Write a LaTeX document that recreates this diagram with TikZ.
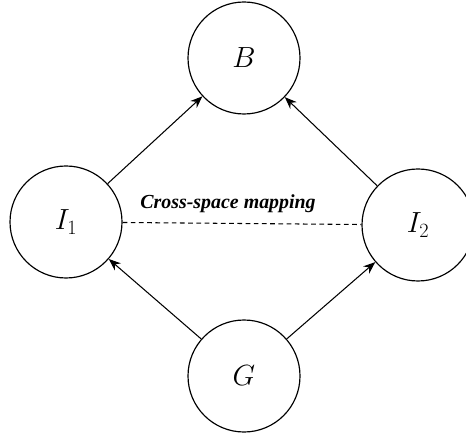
\documentclass[tikz,border=0pt]{standalone}
\usepackage{fontspec}
\setmainfont{Liberation Serif}
\usetikzlibrary{arrows.meta}

\begin{document}
\begin{tikzpicture}[
    space/.style={circle, draw, line width=1pt, minimum size=3.36cm, inner sep=0pt, font=\fontsize{27}{32}\selectfont},
    map/.style={-{Stealth[length=3.6mm, width=2.8mm]}, line width=0.9pt},
    cross/.style={line width=0.9pt, dash pattern=on 4pt off 3pt},
    lbl/.style={font=\fontsize{17}{20}\selectfont\bfseries\itshape}
]
    \useasboundingbox (0,0) rectangle (13.98,12.99);

    % Spaces
    \node[space] (B) at (7.32,11.25) {$B$};
    \node[space] (G) at (7.32,1.71) {$G$};
    \node[space] (I1) at (1.98,6.33) {$I_1$};
    \node[space] (I2) at (12.54,6.24) {$I_2$};

    \draw[map] (I1) -- (B);
    \draw[map] (I2) -- (B);
    \draw[map] (G) -- (I1);
    \draw[map] (G) -- (I2);

    \draw[cross] (I1) -- (I2);
    \node[lbl] (cross) at (6.84,6.87) {Cross-space mapping};
\end{tikzpicture}
\end{document}
